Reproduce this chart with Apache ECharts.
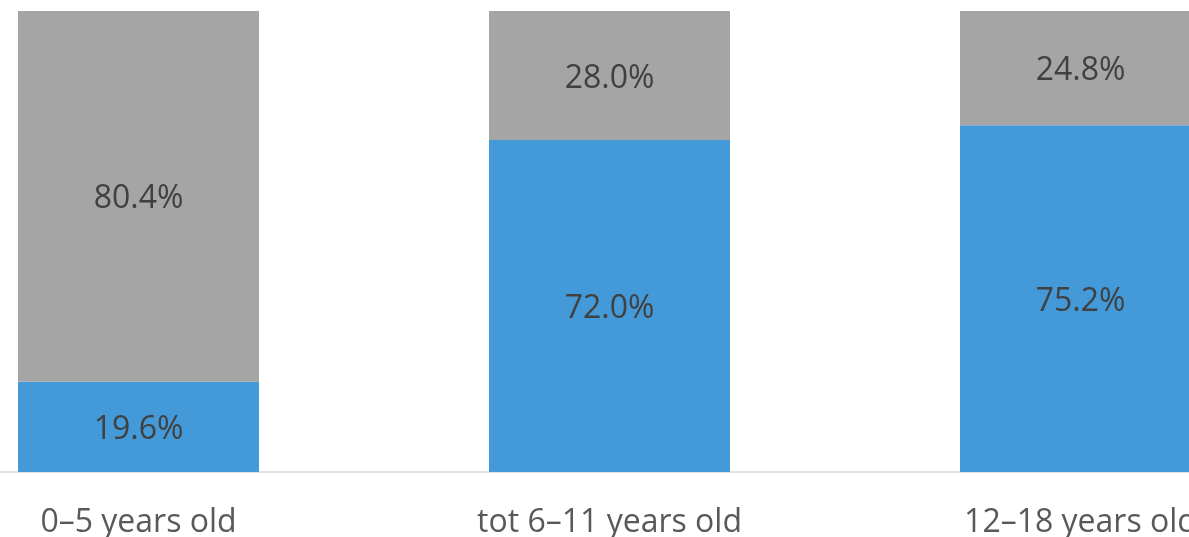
<!DOCTYPE html>
<html>
<head>
<meta charset="utf-8">
<script src="https://cdn.jsdelivr.net/npm/echarts@6/dist/echarts.min.js"></script>
<style>
html,body{margin:0;padding:0;background:#fff;}
#chart{width:1189px;height:537px;}
</style>
</head>
<body>
<div id="chart"></div>
<script>
const categories = ['0–5 years old', 'tot 6–11 years old', '12–18 years old'];
const blueValues = [19.6, 72.0, 75.2];
const grayValues = [80.4, 28.0, 24.8];

const chart = echarts.init(document.getElementById('chart'));
const labelStyle = {
  show: true,
  position: 'inside',
  offset: [0, 3],
  fontFamily: 'Open Sans',
  fontSize: 32,
  color: '#404040',
  formatter: p => p.value.toFixed(1) + '%'
};
chart.setOption({
  animation: false,
  grid: { left: -97, width: 1413, top: 11, height: 461, containLabel: false, outerBoundsMode: 'none' },
  xAxis: {
    type: 'category',
    data: categories,
    axisLine: { show: true, lineStyle: { color: '#D9D9D9', width: 1.5 } },
    axisTick: { show: false },
    axisLabel: { interval: 0, margin: 35, fontFamily: 'Open Sans', fontSize: 32, color: '#595959' }
  },
  yAxis: { type: 'value', min: 0, max: 100, show: false, splitLine: { show: false } },
  series: [
    { type: 'bar', stack: 'a', data: blueValues, barWidth: 241, itemStyle: { color: '#449AD9' }, label: labelStyle },
    { type: 'bar', stack: 'a', data: grayValues, barWidth: 241, itemStyle: { color: '#A5A5A5' }, label: labelStyle }
  ]
});
</script>
</body>
</html>
